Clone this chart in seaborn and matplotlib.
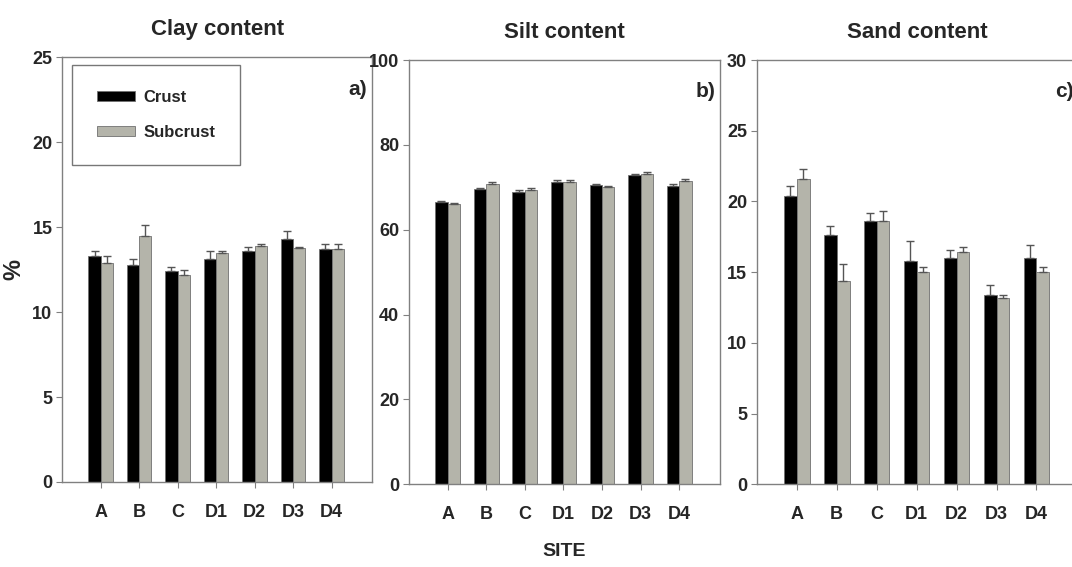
import matplotlib
matplotlib.use("Agg")
import matplotlib.pyplot as plt
import numpy as np
import pandas as pd
import seaborn as sns

sites = ["A", "B", "C", "D1", "D2", "D3", "D4"]
groups = ["Crust", "Subcrust"]

clay_crust = [13.3, 12.8, 12.4, 13.1, 13.6, 14.3, 13.7]
clay_sub = [12.9, 14.5, 12.2, 13.5, 13.9, 13.8, 13.7]
clay_crust_err = [0.3, 0.35, 0.25, 0.5, 0.25, 0.5, 0.3]
clay_sub_err = [0.4, 0.6, 0.3, 0.1, 0.1, 0.05, 0.3]

silt_crust = [66.5, 69.5, 69.0, 71.3, 70.5, 72.8, 70.3]
silt_sub = [66.0, 70.7, 69.3, 71.3, 70.0, 73.2, 71.5]
silt_crust_err = [0.3, 0.4, 0.4, 0.5, 0.4, 0.4, 0.6]
silt_sub_err = [0.2, 0.6, 0.6, 0.4, 0.3, 0.3, 0.4]

sand_crust = [20.4, 17.6, 18.6, 15.8, 16.0, 13.4, 16.0]
sand_sub = [21.6, 14.4, 18.6, 15.0, 16.4, 13.2, 15.0]
sand_crust_err = [0.7, 0.7, 0.6, 1.4, 0.6, 0.7, 0.9]
sand_sub_err = [0.7, 1.2, 0.7, 0.4, 0.4, 0.2, 0.4]

panels = [
    ("Clay content", "a)", clay_crust, clay_sub, clay_crust_err, clay_sub_err, 25, 5),
    ("Silt content", "b)", silt_crust, silt_sub, silt_crust_err, silt_sub_err, 100, 20),
    ("Sand content", "c)", sand_crust, sand_sub, sand_crust_err, sand_sub_err, 30, 5),
]

colors = ["#000000", "#b6b6a8"]
font = "Liberation Sans"

sns.set_style("white")
plt.rcParams["font.family"] = [font, "DejaVu Sans"]
plt.rcParams["font.weight"] = "bold"

fig = plt.figure(figsize=(10.72, 5.67), dpi=100)
boxes = [
    [0.058, 0.150, 0.289, 0.749],
    [0.3815, 0.146, 0.290, 0.748],
    [0.706, 0.146, 0.300, 0.748],
]

for i, (title, tag, crust, sub, ecrust, esub, ymax, ystep) in enumerate(panels):
    ax = fig.add_axes(boxes[i])
    df = pd.DataFrame({
        "site": sites * 2,
        "group": ["Crust"] * 7 + ["Subcrust"] * 7,
        "value": crust + sub,
    })
    sns.barplot(data=df, x="site", y="value", hue="group", order=sites,
                hue_order=groups, palette=colors, errorbar=None, width=0.64,
                edgecolor="#707070", linewidth=0.6, ax=ax)

    # error bars, upward only, placed at the bar centres seaborn computed
    for container, errs in zip(ax.containers, [ecrust, esub]):
        xs = [p.get_x() + p.get_width() / 2 for p in container.patches]
        ys = [p.get_height() for p in container.patches]
        ax.errorbar(xs, ys, yerr=[np.zeros(len(errs)), errs], fmt="none",
                    ecolor="#555555", elinewidth=1, capsize=3, capthick=1)

    ax.set_xlim(-1.0, 7.05)
    ax.set_ylim(0, ymax)
    ax.set_yticks(np.arange(0, ymax + 1, ystep))
    ax.set_title(title, fontsize=16, fontweight="bold", pad=16)
    ax.set_xlabel("")
    ax.set_ylabel("")
    for s in ax.spines.values():
        s.set_color("#808080")
        s.set_linewidth(1.0)
    ax.tick_params(axis="both", which="both", bottom=True, left=True,
                   length=4, width=0.8, color="#808080", labelsize=13, pad=3)
    ax.tick_params(axis="x", pad=12)
    ax.text(0.985, 0.925, tag, transform=ax.transAxes, ha="right", va="center",
            fontsize=15, fontweight="bold")

    if i == 0:
        ax.set_ylabel("%", fontsize=17, fontweight="bold", labelpad=5)
        leg = ax.legend(loc="upper left", bbox_to_anchor=(0.02, 0.99),
                        fontsize=12, frameon=True, fancybox=False,
                        edgecolor="#555555", handlelength=2.3,
                        handleheight=0.5, borderpad=1.5, labelspacing=1.2,
                        handletextpad=0.5, borderaxespad=0.2)
        leg.get_frame().set_linewidth(1.0)
    else:
        ax.get_legend().remove()
    if i == 1:
        ax.set_xlabel("SITE", fontsize=14, fontweight="bold", labelpad=14)

fig.savefig("out.png", dpi=100)
